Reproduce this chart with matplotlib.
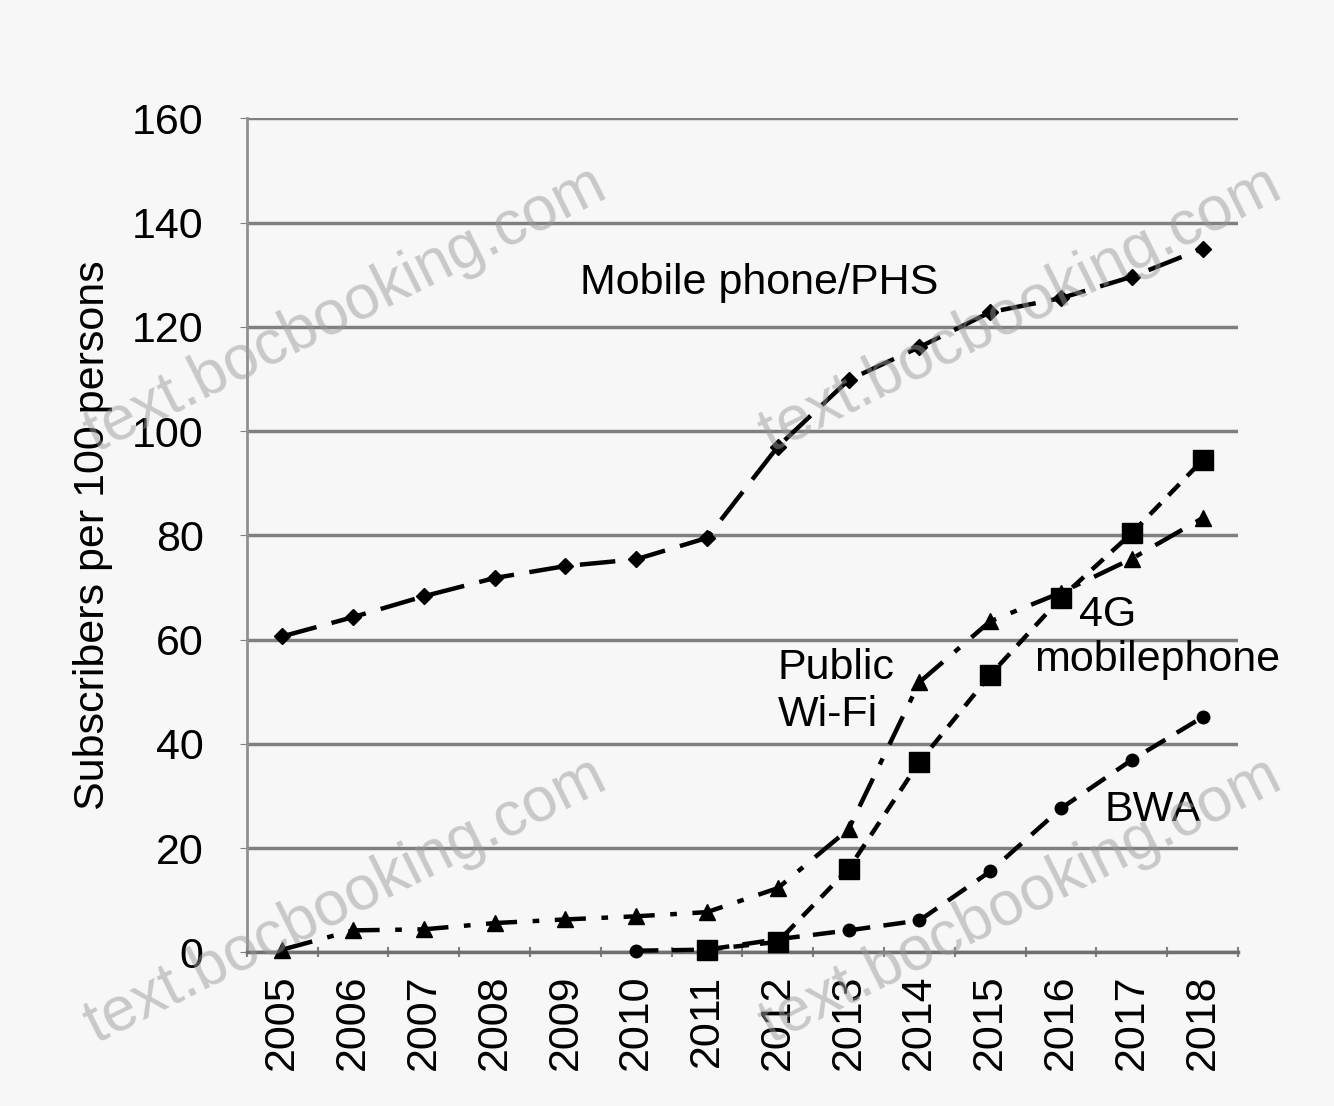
import matplotlib
matplotlib.use("Agg")
import matplotlib.pyplot as plt
import numpy as np

years = [str(y) for y in range(2005, 2019)]
mobile = [60.6, 64.3, 68.3, 71.8, 74.1, 75.4, 79.5, 97.0, 109.8, 116.1, 122.8, 125.5, 129.6, 135.0]
wifi = [0.5, 4.2, 4.4, 5.6, 6.3, 6.9, 7.7, 12.3, 23.6, 51.8, 63.5, 69.0, 75.5, 83.3]
g4 = [None, None, None, None, None, None, 0.5, 2.0, 16.0, 36.5, 53.2, 68.0, 80.4, 94.4]
bwa = [None, None, None, None, None, 0.3, 0.5, 2.5, 4.2, 6.1, 15.5, 27.6, 36.9, 45.1]
yticks = [0, 20, 40, 60, 80, 100, 120, 140, 160]

plt.rcParams['font.family'] = ['Liberation Sans', 'DejaVu Sans']

fig = plt.figure(figsize=(13.34, 11.06), dpi=100)
fig.patch.set_facecolor('#f7f7f7')
ax = fig.add_axes([0.185, 0.139, 0.743, 0.754])
ax.set_facecolor('#f7f7f7')

x = np.arange(len(years))

def arr(v):
    return np.array([np.nan if a is None else a for a in v], dtype=float)

ax.plot(x, arr(mobile), color='black', lw=3.2, dashes=(8, 3.5), marker='D', ms=8, zorder=5, clip_on=False)
ax.plot(x, arr(wifi), color='black', lw=3.2, dashes=(7, 3.5, 1.5, 3.5), marker='^', ms=12, zorder=5, clip_on=False)
ax.plot(x, arr(g4), color='black', lw=3.2, dashes=(3.5, 2.5), marker='s', ms=14, zorder=5, clip_on=False)
ax.plot(x, arr(bwa), color='black', lw=3.2, dashes=(5, 3), marker='o', ms=9, zorder=5, clip_on=False)

ax.set_xlim(-0.5, len(years) - 0.5)
ax.set_ylim(0, 160)
ax.set_yticks(yticks)
ax.set_yticklabels([str(t) for t in yticks], fontsize=31)
ax.set_xticks(x)
ax.set_xticklabels(years, rotation=90, fontsize=31)
ax.tick_params(axis='x', length=0, pad=16)
ax.tick_params(axis='y', length=5, color='#808080', pad=26)
ax.set_xticks(np.arange(-0.5, len(years)), minor=True)
ax.tick_params(axis='x', which='minor', length=7, direction='inout', color='#808080', width=1.5)

ax.grid(axis='y', color='#808080', lw=2.5)
ax.set_axisbelow(True)
for s in ['top', 'right']:
    ax.spines[s].set_visible(False)
ax.spines['left'].set_color('#909090')
ax.spines['left'].set_linewidth(2)
ax.spines['bottom'].set_color('#707070')
ax.spines['bottom'].set_linewidth(2.5)

ax.set_ylabel('Subscribers per 100 persons', fontsize=31, labelpad=14)

ax.text(4.2, 128.5, 'Mobile phone/PHS', fontsize=31, va='center', ha='left', zorder=6)
ax.text(7.0, 54.5, 'Public', fontsize=31, va='center', ha='left', zorder=6)
ax.text(7.0, 45.5, 'Wi-Fi', fontsize=31, va='center', ha='left', zorder=6)
ax.text(11.25, 64.7, '4G', fontsize=31, va='center', ha='left', zorder=6)
ax.text(10.62, 56.0, 'mobilephone', fontsize=31, va='center', ha='left', zorder=6, clip_on=False)
ax.text(11.61, 27.2, 'BWA', fontsize=31, va='center', ha='left', zorder=6)

for (fx, fy) in [(0.259, 0.72), (0.765, 0.72), (0.259, 0.186), (0.765, 0.186)]:
    fig.text(fx, fy, 'text.bocbooking.com', fontsize=45, color='#9a9a9a', alpha=0.5,
             rotation=26.5, ha='center', va='center', zorder=10)

fig.savefig('out.png', dpi=100, facecolor=fig.get_facecolor())
